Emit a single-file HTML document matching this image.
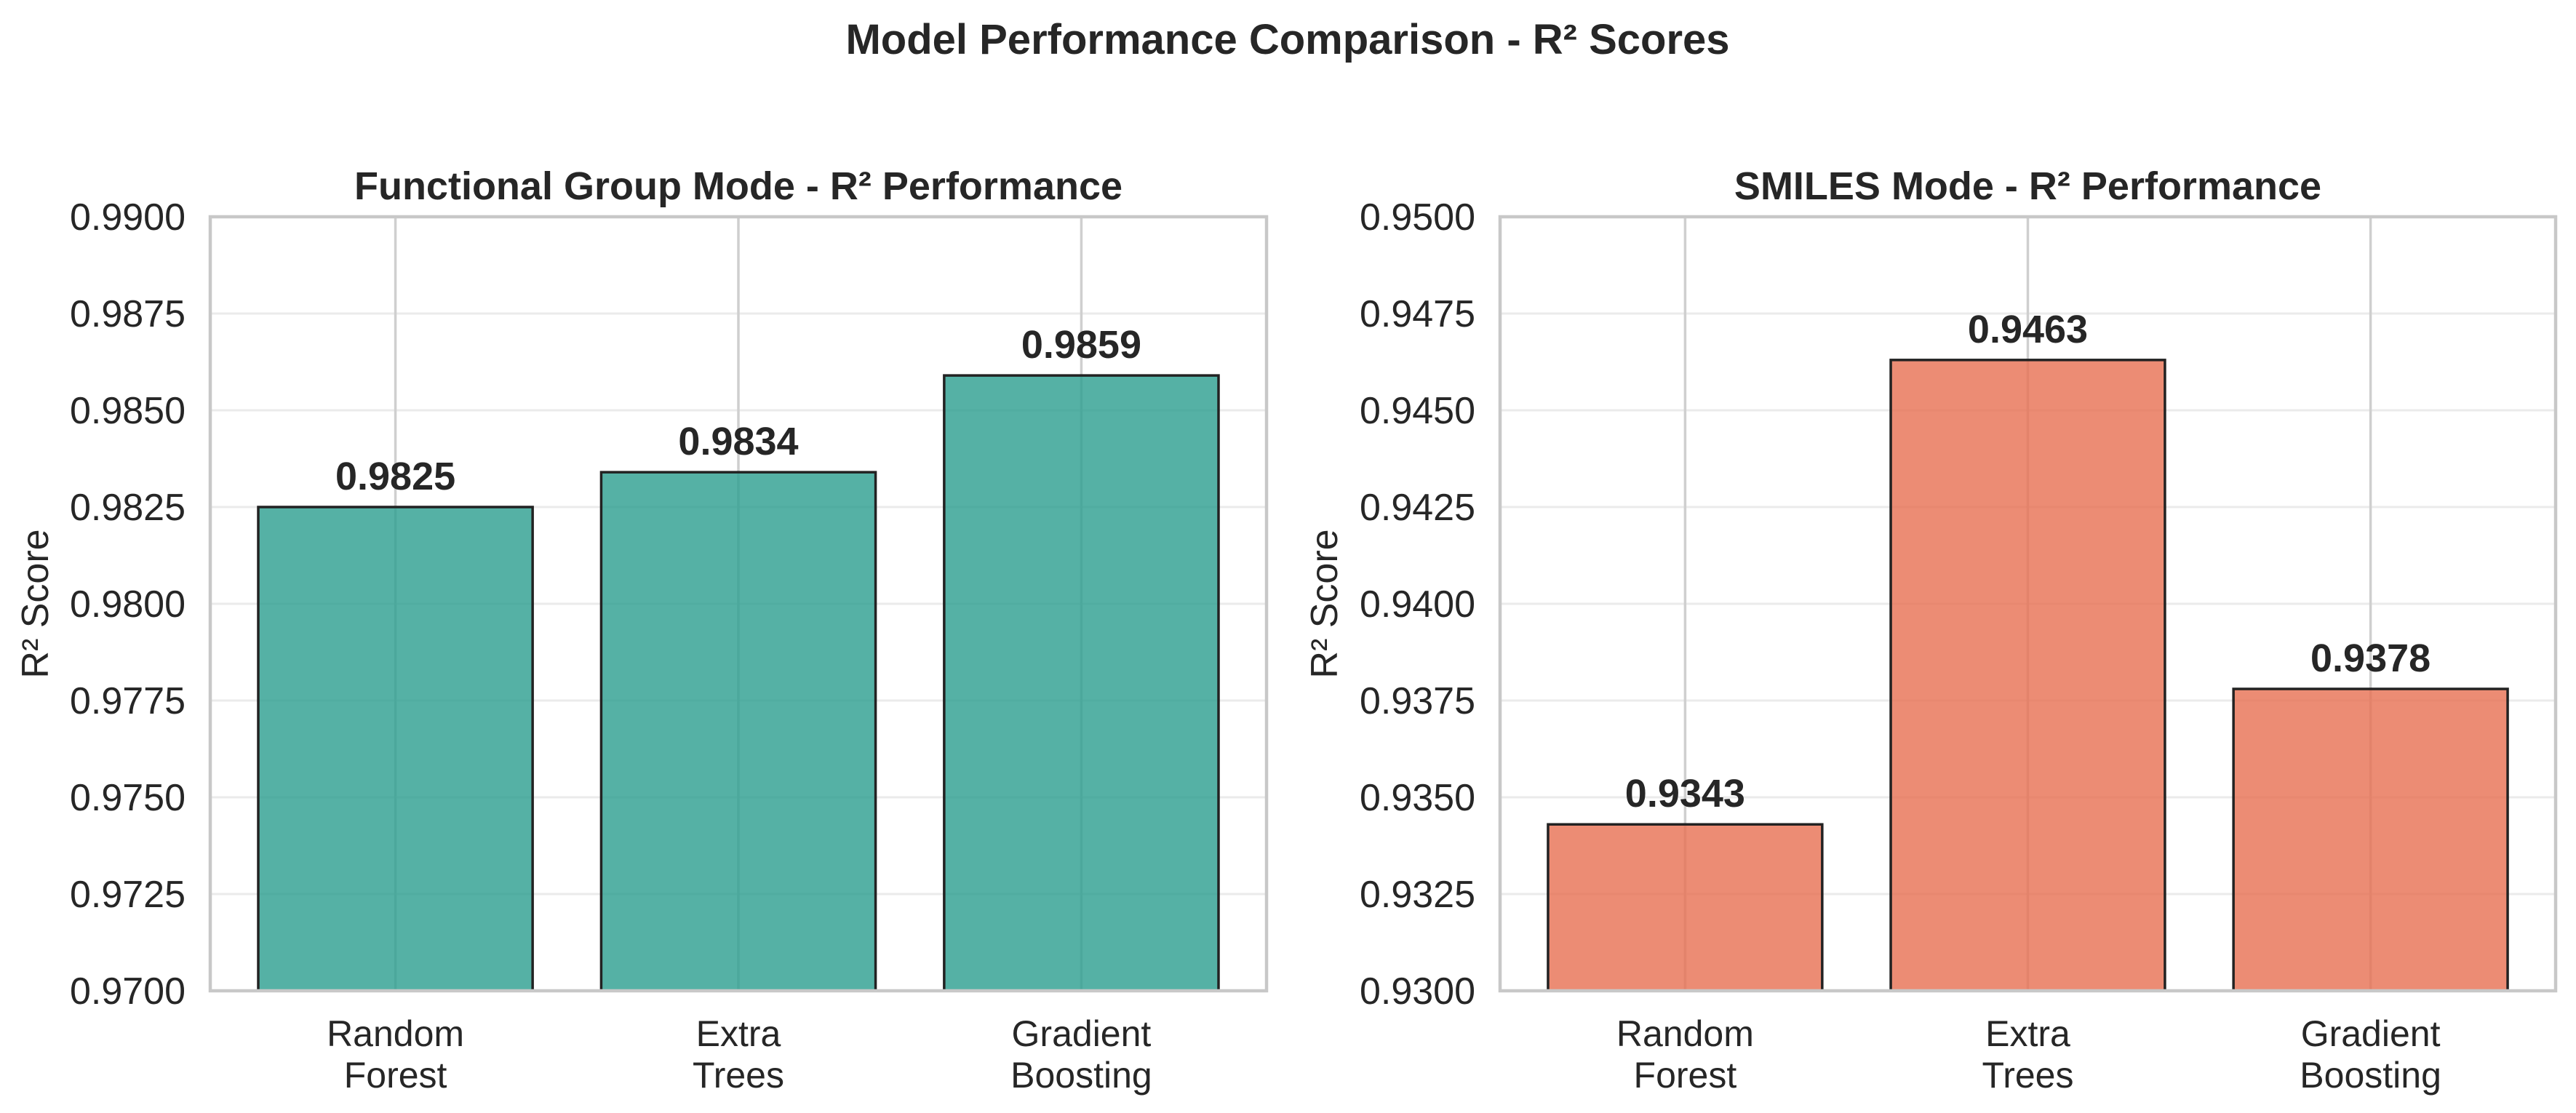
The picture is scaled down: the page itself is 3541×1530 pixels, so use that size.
<!DOCTYPE html>
<html><head><meta charset="utf-8"><style>
html,body{margin:0;padding:0;background:#fff;}
svg{display:block;font-family:"Liberation Sans",Arial,sans-serif;}
</style></head><body>
<svg id="fig" width="3541" height="1530" viewBox="0 0 3541 1530" xmlns="http://www.w3.org/2000/svg">
<rect width="3541" height="1530" fill="#fff"/>
<text x="1770" y="74" text-anchor="middle" font-size="58" font-weight="bold" fill="#262626">Model Performance Comparison - R² Scores</text>
</svg>
<script>
const categories = [["Random","Forest"],["Extra","Trees"],["Gradient","Boosting"]];
const fgValues = [0.9825, 0.9834, 0.9859];
const smilesValues = [0.9343, 0.9463, 0.9378];
const fgTicks = [0.9700,0.9725,0.9750,0.9775,0.9800,0.9825,0.9850,0.9875,0.9900];
const smilesTicks = [0.9300,0.9325,0.9350,0.9375,0.9400,0.9425,0.9450,0.9475,0.9500];

const NS = "http://www.w3.org/2000/svg";
const svg = document.getElementById('fig');
function mk(tag, attrs, parent){const e=document.createElementNS(NS,tag);for(const k in attrs)e.setAttribute(k,attrs[k]);(parent||svg).appendChild(e);return e;}

function panel(cfg){
  const g = mk('g',{});
  
  
  const L=cfg.x0,R=cfg.x1,T=298,B=1362;
  const ymin=cfg.ticks[0], ymax=cfg.ticks[cfg.ticks.length-1];
  const y=v=>B-(v-ymin)/(ymax-ymin)*(B-T);
  const x=i=>L+(i+0.54)/3.08*(R-L);
  const bw=0.8/3.08*(R-L);
  cfg.ticks.forEach(t=>{
    const gl=mk('line',{x1:L,x2:R,y1:y(t),y2:y(t),stroke:'#ebebeb','stroke-width':3},g);
    
    
    const tl=mk('text',{x:L-34,y:y(t)+18,'text-anchor':'end','font-size':52,fill:'#262626'},g);
    tl.textContent=t.toFixed(4);
    
    
  });
  categories.forEach((c,i)=>{
    const vl=mk('line',{x1:x(i),x2:x(i),y1:T,y2:B,stroke:'#cfcfcf','stroke-width':3.5},g);
    
    
  });
  cfg.values.forEach((v,i)=>{
    const b=mk('rect',{x:x(i)-bw/2,y:y(v),width:bw,height:B-y(v),fill:cfg.color,'fill-opacity':0.8,stroke:'#222','stroke-width':3.5},g);
    
    
    const lb=mk('text',{x:x(i),y:y(v)-24,'text-anchor':'middle','font-size':54,'font-weight':'bold',fill:'#262626'},g);
    lb.textContent=v.toFixed(4);
    
    
  });
  const sp=mk('rect',{x:L,y:T,width:R-L,height:B-T,fill:'none',stroke:'#c8c8c8','stroke-width':4.5},g);
  
  
  categories.forEach((c,i)=>{
    c.forEach((w,j)=>{
      const t=mk('text',{x:x(i),y:1438+j*57,'text-anchor':'middle','font-size':50,fill:'#262626'},g);
      t.textContent=w;
      
      
    });
  });
  const yl=mk('text',{x:0,y:0,'text-anchor':'middle','font-size':52,fill:'#262626',transform:`translate(${cfg.ylx},${(T+B)/2}) rotate(-90)`},g);
  yl.textContent='R² Score';
  
  
  const tt=mk('text',{x:(L+R)/2,y:274,'text-anchor':'middle','font-size':54,'font-weight':'bold',fill:'#262626'},g);
  tt.textContent=cfg.title;
  
  
}
panel({name:'functional-group-panel',x0:289,x1:1741,ticks:fgTicks,values:fgValues,color:'#2a9d8f',ylx:66,title:'Functional Group Mode - R² Performance'});
panel({name:'smiles-panel',x0:2062,x1:3513,ticks:smilesTicks,values:smilesValues,color:'#e76f51',ylx:1838,title:'SMILES Mode - R² Performance'});
</script>
</body></html>
